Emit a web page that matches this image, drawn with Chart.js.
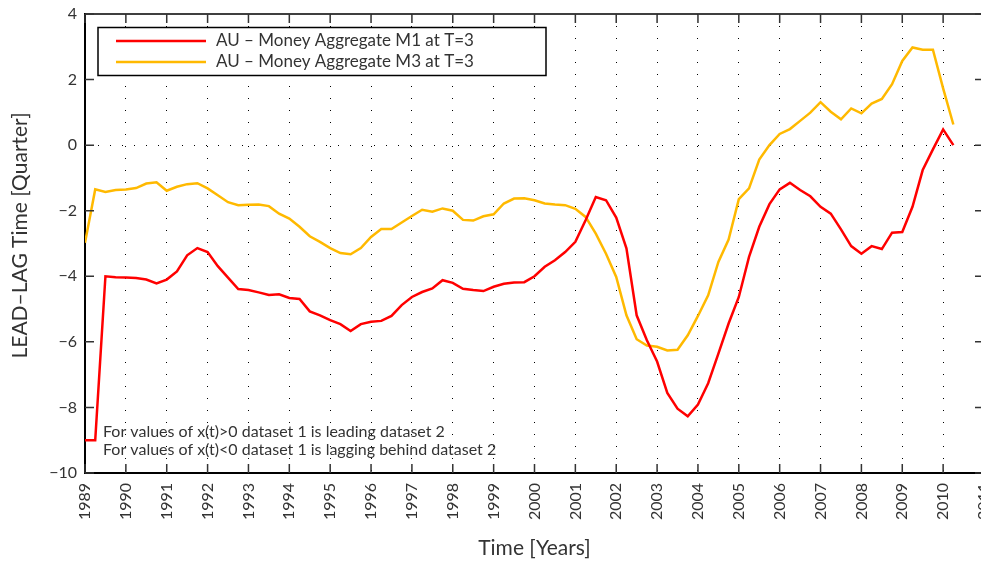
<!DOCTYPE html>
<html>
<head>
<meta charset="utf-8">
<script src="https://cdn.jsdelivr.net/npm/chart.js@4.4.1/dist/chart.umd.min.js"></script>
<style>
  html, body { margin: 0; padding: 0; background: #fff; overflow: hidden; }
  #wrap { width: 1013px; height: 562px; }
</style>
</head>
<body>
<div id="wrap"><canvas id="chart" width="1013" height="562"></canvas></div>
<script>
// Lead-lag time (in quarters) of two AU money aggregates, quarterly from 1989 Q1
const startYear = 1989;
const seriesNames = ['AU \u2013 Money Aggregate M1 at T=3', 'AU \u2013 Money Aggregate M3 at T=3'];
const seriesColors = ['#ff0000', '#ffb900'];
const noteLines = [
  'For values of x(t)>0 dataset 1 is leading dataset 2',
  'For values of x(t)<0 dataset 1 is lagging behind dataset 2'
];

const m1Lag = [
  -9.00, -9.00, -4.00, -4.03, -4.04, -4.05, -4.10, -4.22, -4.10, -3.85,
  -3.36, -3.14, -3.26, -3.69, -4.04, -4.39, -4.42, -4.49, -4.57, -4.55,
  -4.66, -4.69, -5.07, -5.19, -5.34, -5.46, -5.67, -5.46, -5.39, -5.36,
  -5.21, -4.88, -4.63, -4.48, -4.37, -4.12, -4.20, -4.38, -4.42, -4.45,
  -4.32, -4.23, -4.19, -4.18, -4.00, -3.71, -3.51, -3.26, -2.95, -2.29,
  -1.58, -1.68, -2.21, -3.15, -5.19, -5.95, -6.60, -7.56, -8.04, -8.27,
  -7.91, -7.26, -6.36, -5.44, -4.63, -3.41, -2.49, -1.80, -1.35, -1.15,
  -1.37, -1.56, -1.88, -2.09, -2.57, -3.08, -3.31, -3.08, -3.17, -2.67,
  -2.65, -1.88, -0.76, -0.13, 0.48, 0.00
];

const m3Lag = [
  -2.98, -1.35, -1.43, -1.37, -1.35, -1.31, -1.17, -1.13, -1.39, -1.27,
  -1.19, -1.16, -1.32, -1.53, -1.74, -1.83, -1.82, -1.81, -1.86, -2.09,
  -2.24, -2.49, -2.78, -2.95, -3.14, -3.29, -3.33, -3.14, -2.80, -2.56,
  -2.56, -2.36, -2.16, -1.97, -2.03, -1.93, -2.00, -2.28, -2.30, -2.17,
  -2.11, -1.78, -1.63, -1.62, -1.68, -1.78, -1.81, -1.83, -1.94, -2.19,
  -2.70, -3.31, -4.02, -5.19, -5.92, -6.11, -6.15, -6.26, -6.24, -5.80,
  -5.21, -4.58, -3.56, -2.88, -1.65, -1.32, -0.44, 0.00, 0.34, 0.49,
  0.74, 0.99, 1.31, 1.02, 0.79, 1.12, 0.97, 1.27, 1.41, 1.86,
  2.57, 2.98, 2.91, 2.91, 1.73, 0.63
];

// one time stamp per quarter
const quarterTimes = m1Lag.map((_, i) => startYear + i / 4);

const FONT = 'Lato, "Open Sans", sans-serif';
const TEXT = '#333333';

const toPoints = (vals) => vals.map((v, i) => ({ x: quarterTimes[i], y: v }));

// let the layout padding alone decide where the plot box sits
const noOverhang = (s) => {
  s.paddingLeft = 0; s.paddingRight = 0;
  s.paddingTop = 0; s.paddingBottom = 0;
};

// box, inward ticks, legend and note text
const framePlugin = {
  id: 'frame',
  afterDraw(chart) {
    const { ctx, chartArea: a, scales: { x, y } } = chart;
    ctx.save();

    // top and right edges of the box
    ctx.strokeStyle = '#000';
    ctx.lineWidth = 1.5;
    ctx.beginPath();
    ctx.moveTo(a.left, a.top);
    ctx.lineTo(a.right, a.top);
    ctx.lineTo(a.right, a.bottom);
    ctx.stroke();

    // tick marks pointing into the plot
    ctx.strokeStyle = '#333';
    ctx.lineWidth = 1.5;
    ctx.beginPath();
    x.ticks.forEach(t => {
      const px = x.getPixelForValue(t.value);
      ctx.moveTo(px, a.bottom); ctx.lineTo(px, a.bottom - 9);
      ctx.moveTo(px, a.top); ctx.lineTo(px, a.top + 9);
    });
    y.ticks.forEach(t => {
      const py = y.getPixelForValue(t.value);
      ctx.moveTo(a.left, py); ctx.lineTo(a.left + 9, py);
      ctx.moveTo(a.right, py); ctx.lineTo(a.right - 9, py);
    });
    ctx.stroke();

    // legend
    const lx = a.left + 13, ly = a.top + 13.5;
    ctx.fillStyle = '#fff';
    ctx.fillRect(lx, ly, 448, 48);
    ctx.strokeStyle = '#000';
    ctx.lineWidth = 1.5;
    ctx.strokeRect(lx, ly, 448, 48);
    ctx.font = '17px ' + FONT;
    ctx.textBaseline = 'middle';
    ctx.textAlign = 'left';
    chart.data.datasets.forEach((ds, i) => {
      const ry = ly + 13.5 + i * 21;
      ctx.strokeStyle = ds.borderColor;
      ctx.lineWidth = 2.5;
      ctx.beginPath();
      ctx.moveTo(lx + 18, ry);
      ctx.lineTo(lx + 108, ry);
      ctx.stroke();
      ctx.fillStyle = TEXT;
      ctx.fillText(ds.label, lx + 118, ry);
    });

    // note text
    ctx.font = '16px ' + FONT;
    ctx.fillStyle = TEXT;
    noteLines.forEach((line, i) => {
      ctx.fillText(line, a.left + 18, a.bottom - 41 + i * 18);
    });

    ctx.restore();
  }
};

new Chart(document.getElementById('chart'), {
  type: 'line',
  data: {
    datasets: [
      { label: seriesNames[0], data: toPoints(m1Lag), borderColor: seriesColors[0] },
      { label: seriesNames[1], data: toPoints(m3Lag), borderColor: seriesColors[1] }
    ]
  },
  options: {
    responsive: false,
    animation: false,
    devicePixelRatio: 1,
    layout: { padding: { top: 14, right: 29, left: 0, bottom: 0 } },
    elements: {
      line: { borderWidth: 2.5, tension: 0, fill: false },
      point: { radius: 0 }
    },
    plugins: {
      legend: { display: false },
      tooltip: { enabled: false }
    },
    scales: {
      x: {
        type: 'linear',
        min: 1989,
        max: 2011,
        afterFit: (s) => { s.height = 89; noOverhang(s); },
        border: { display: true, color: '#000', width: 2, dash: [1, 11] },
        grid: { color: '#000', lineWidth: 1, drawTicks: false },
        ticks: {
          stepSize: 1,
          autoSkip: false,
          minRotation: 90,
          maxRotation: 90,
          padding: 10,
          color: TEXT,
          font: { family: FONT, size: 16 },
          callback: (v) => String(v)
        },
        title: {
          display: true,
          text: 'Time [Years]',
          color: TEXT,
          font: { family: FONT, size: 21 },
          padding: { top: 0, bottom: 1 }
        }
      },
      y: {
        min: -10,
        max: 4,
        afterFit: (s) => { s.width = 85; noOverhang(s); },
        border: { display: true, color: '#000', width: 2, dash: [1, 11] },
        grid: {
          color: (c) => (c.tick && c.tick.value === 0 ? '#000' : 'rgba(0,0,0,0)'),
          lineWidth: 1,
          drawTicks: false
        },
        ticks: {
          stepSize: 2,
          padding: 8,
          color: TEXT,
          font: { family: FONT, size: 16 },
          callback: (v) => String(v).replace('-', '\u2212')
        },
        title: {
          display: true,
          text: '   LEAD\u2013LAG Time [Quarter]',
          color: TEXT,
          font: { family: FONT, size: 21 },
          padding: { top: 8, bottom: 0 }
        }
      }
    }
  },
  plugins: [framePlugin]
});
</script>
</body>
</html>
